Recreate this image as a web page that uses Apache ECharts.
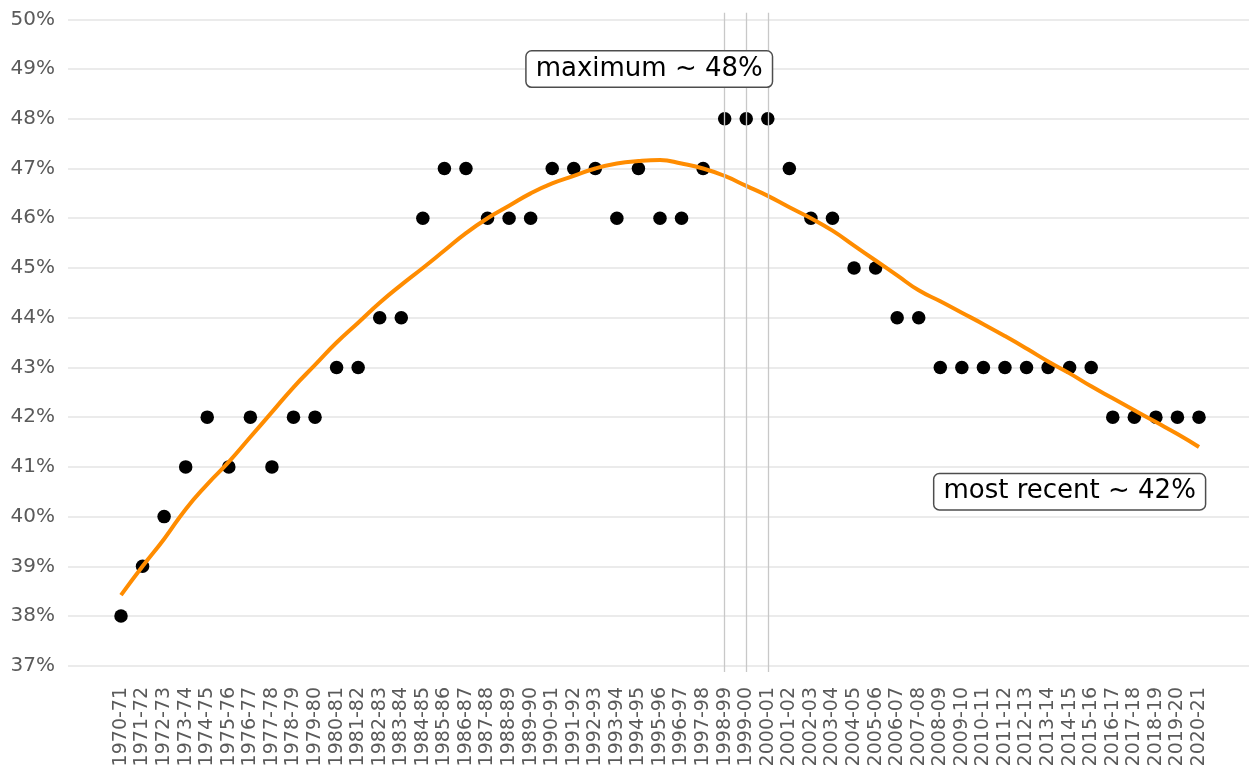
<!DOCTYPE html>
<html>
<head>
<meta charset="utf-8">
<script src="https://cdn.jsdelivr.net/npm/echarts@6/dist/echarts.min.js"></script>
<style>
html,body{margin:0;padding:0;background:#fff;}
#chart{width:1249px;height:770px;}
</style>
</head>
<body>
<div id="chart"></div>
<script>
const categories = ["1970-71","1971-72","1972-73","1973-74","1974-75","1975-76","1976-77","1977-78","1978-79","1979-80",
"1980-81","1981-82","1982-83","1983-84","1984-85","1985-86","1986-87","1987-88","1988-89","1989-90",
"1990-91","1991-92","1992-93","1993-94","1994-95","1995-96","1996-97","1997-98","1998-99","1999-00",
"2000-01","2001-02","2002-03","2003-04","2004-05","2005-06","2006-07","2007-08","2008-09","2009-10",
"2010-11","2011-12","2012-13","2013-14","2014-15","2015-16","2016-17","2017-18","2018-19","2019-20","2020-21"];

const shareValues = [38,39,40,41,42,41,42,41,42,42,
43,43,44,44,46,47,47,46,46,46,
47,47,47,46,47,46,46,47,48,48,
48,47,46,46,45,45,44,44,43,43,
43,43,43,43,43,43,42,42,42,42,42];

const smoothTrend = [38.42,39.0,39.55,40.15,40.65,41.1,41.6,42.1,42.6,43.05,
43.5,43.9,44.3,44.66,45.0,45.35,45.7,46.0,46.25,46.5,
46.7,46.85,47.0,47.1,47.15,47.17,47.1,47.0,46.85,46.65,
46.45,46.22,46.0,45.75,45.45,45.15,44.85,44.55,44.33,44.1,
43.87,43.63,43.38,43.12,42.88,42.62,42.38,42.14,41.9,41.66,41.4];

const highlightCategories = ["1998-99","1999-00","2000-01"];

const yTicks = {min:37, max:50, step:1};

const annotations = [
  {text:"maximum ~ 48%", x:24.5, y:49},
  {text:"most recent ~ 42%", x:44, y:40.5}
];

const FONT = "DejaVu Sans";
const chart = echarts.init(document.getElementById('chart'), null, {renderer:'canvas'});

const pxPerUnit = (665.8-19.3)/(yTicks.max-yTicks.min);
const g1Top = 12.7, g1Bottom = 672;
const y1Max = yTicks.max + (19.3-g1Top)/pxPerUnit;
const y1Min = yTicks.min - (g1Bottom-665.8)/pxPerUnit;

const option = {
  animation:false,
  backgroundColor:'#ffffff',
  textStyle:{fontFamily:FONT},
  grid:[
    {left:68, right:0, top:19.3, bottom:770-665.8},
    {left:121, right:50, top:g1Top, bottom:770-g1Bottom}
  ],
  xAxis:[
    {gridIndex:0, type:'value', min:0, max:1, show:false},
    {gridIndex:1, type:'category', data:categories, boundaryGap:false,
     axisLine:{show:false}, axisTick:{show:false}, splitLine:{show:false},
     axisLabel:{rotate:90, interval:0, margin:15, fontSize:19, color:'#5a5a5a', fontFamily:FONT}},
    {gridIndex:1, type:'value', min:0, max:categories.length-1, show:false}
  ],
  yAxis:[
    {gridIndex:0, type:'value', min:yTicks.min, max:yTicks.max, interval:yTicks.step,
     axisLine:{show:false}, axisTick:{show:false},
     axisLabel:{formatter:'{value}%', fontSize:20, color:'#5a5a5a', margin:13, fontFamily:FONT},
     splitLine:{lineStyle:{color:'#ebebeb', width:2}}},
    {gridIndex:1, type:'value', min:y1Min, max:y1Max, show:false}
  ],
  series:[
    {
      type:'scatter', xAxisIndex:1, yAxisIndex:1,
      data:shareValues, symbolSize:13.5, itemStyle:{color:'#000000', opacity:1}, z:3,
      markLine:{
        silent:true, symbol:'none', label:{show:false},
        lineStyle:{color:'#c8c8c8', width:1.3, type:'solid', opacity:1},
        data:highlightCategories.map(c=>({xAxis:c}))
      }
    },
    {
      type:'line', xAxisIndex:1, yAxisIndex:1,
      data:smoothTrend, smooth:true, showSymbol:false, symbol:'none',
      lineStyle:{color:'#ff8c00', width:4}, z:4
    },
    {
      type:'scatter', xAxisIndex:2, yAxisIndex:1, z:6,
      data:annotations.map(a=>({value:[a.x,a.y], name:a.text})),
      symbolSize:0, itemStyle:{opacity:1},
      label:{show:true, position:'inside', formatter:p=>p.name,
        fontSize:26, color:'#000000', fontFamily:FONT, lineHeight:27,
        backgroundColor:'#ffffff', borderColor:'#4d4d4d', borderWidth:1.5, borderRadius:5,
        padding:[4,9,4,9]}
    }
  ]
};
chart.setOption(option);
</script>
</body>
</html>
